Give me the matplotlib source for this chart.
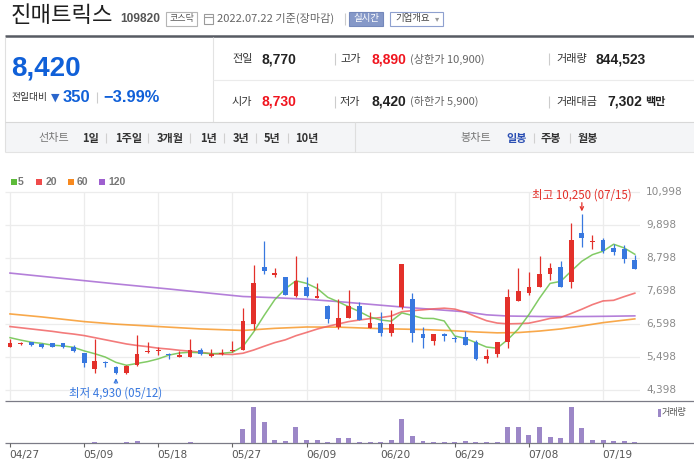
import numpy as np
import pandas as pd
import matplotlib
matplotlib.use('Agg')
import matplotlib.pyplot as plt
from matplotlib.patches import Rectangle

plt.rcParams['font.family'] = ['Noto Sans CJK KR', 'DejaVu Sans']

# ---- daily data (04/27 ~ 07/22) ----
dates = ['04/27', '04/28', '04/29', '05/02', '05/03', '05/04', '05/06', '05/09', '05/10', '05/11',
         '05/12', '05/13', '05/16', '05/17', '05/18', '05/19', '05/20', '05/23', '05/24', '05/25',
         '05/26', '05/27', '05/30', '05/31', '06/02', '06/03', '06/07', '06/08', '06/09', '06/10',
         '06/13', '06/14', '06/15', '06/16', '06/17', '06/20', '06/21', '06/22', '06/23', '06/24',
         '06/27', '06/28', '06/29', '06/30', '07/01', '07/04', '07/05', '07/06', '07/07', '07/08',
         '07/11', '07/12', '07/13', '07/14', '07/15', '07/18', '07/19', '07/20', '07/21', '07/22']
opens = [5830, 5930, 6000, 5920, 5950, 5960, 5840, 5620, 5100, 5290,
         5170, 4950, 5220, 5660, 5680, 5610, 5510, 5510, 5730, 5540,
         5590, 5680, 5730, 6600, 8490, 8240, 8160, 7510, 7830, 7460,
         7200, 6510, 6810, 7200, 6470, 6630, 6280, 7150, 7430, 6260,
         6040, 6260, 6090, 6150, 5990, 5440, 5610, 6010, 7370, 7640,
         7840, 8270, 8480, 8000, 9640, 9330, 9390, 9130, 9090, 8730]
highs = [6100, 5990, 6000, 5950, 5970, 5970, 5880, 5640, 6090, 5350,
         5210, 5220, 6240, 5980, 5820, 5630, 5690, 6100, 5800, 5770,
         5770, 6030, 7130, 8560, 9360, 8460, 8170, 8860, 8170, 7960,
         7230, 7430, 7730, 7330, 7000, 7000, 7060, 8580, 7630, 6500,
         6270, 6280, 6180, 6350, 6060, 5770, 6000, 7760, 8460, 8340,
         8860, 8620, 8690, 9960, 10250, 9560, 9460, 9260, 9210, 8890]
lows = [5830, 5890, 5870, 5810, 5830, 5800, 5670, 5180, 4950, 5150,
        4930, 4940, 5200, 5640, 5550, 5440, 5510, 5500, 5550, 5510,
        5570, 5670, 5720, 6400, 8250, 8150, 7550, 7500, 7500, 7450,
        6640, 6440, 6800, 6720, 6470, 6180, 6180, 7080, 6010, 5810,
        5910, 6040, 5980, 5900, 5390, 5280, 5510, 5810, 7360, 7550,
        7830, 8050, 7830, 7780, 9170, 9080, 8950, 8900, 8640, 8420]
closes = [5950, 5940, 5880, 5840, 5840, 5830, 5700, 5290, 5370, 5280,
          4950, 5210, 5600, 5680, 5730, 5570, 5570, 5720, 5580, 5590,
          5640, 5740, 6700, 7960, 8370, 8250, 7560, 8030, 7530, 7530,
          6770, 6800, 7200, 6730, 6630, 6280, 6600, 8580, 6310, 6140,
          6260, 6190, 6080, 5910, 5430, 5530, 6000, 7500, 7680, 7830,
          8260, 8460, 7840, 9390, 9470, 9350, 9040, 9000, 8770, 8420]
volumes = [210000, 150000, 170000, 140000, 120000, 160000, 180000, 240000, 850000, 250000,
           230000, 850000, 1490000, 230000, 200000, 180000, 170000, 850000, 230000, 190000,
           200000, 240000, 9150000, 23400000, 13600000, 2130000, 1490000, 10400000, 2130000, 2130000,
           850000, 3400000, 3400000, 850000, 850000, 850000, 2130000, 15500000, 4680000, 1490000,
           850000, 850000, 850000, 1490000, 850000, 850000, 850000, 10400000, 10400000, 5320000,
           10400000, 4040000, 3400000, 23300000, 9790000, 2130000, 2130000, 1490000, 1490000, 844523]

# moving averages that need days before 04/27
ma5_head = [6140, 6060, 5990, 5950]
ma20_head = [6510, 6470, 6430, 6390, 6350, 6300, 6260, 6210, 6140, 6070,
             6000, 5930, 5880, 5840, 5790, 5760, 5720, 5690, 5655]
ma60_idx = [0, 3, 7, 10, 14, 18, 22, 25, 28, 31, 35, 39, 42, 44, 46, 48, 50, 52, 54, 56, 59]
ma60_val = [6930, 6830, 6675, 6590, 6510, 6430, 6380, 6450, 6495, 6490, 6440, 6410, 6370,
            6330, 6300, 6310, 6360, 6430, 6530, 6640, 6765]
ma120_idx = [0, 5, 10, 15, 20, 22, 25, 28, 31, 34, 37, 40, 43, 45, 47, 50, 53, 56, 59]
ma120_val = [8290, 8110, 7930, 7760, 7580, 7510, 7470, 7420, 7340, 7250, 7160, 7080, 7000,
             6900, 6860, 6845, 6840, 6850, 6865]

price_ticks = [10998, 9898, 8798, 7698, 6598, 5498, 4398]
date_ticks = ['04/27', '05/09', '05/18', '05/27', '06/09', '06/20', '06/29', '07/08', '07/19']

RED = '#e3302a'
BLUE = '#3878df'
GRID = '#ececec'
VOL = '#9c87c7'
MA_COLORS = {'5': '#6cc24a', '20': '#f05a5a', '60': '#f7931e', '120': '#a15fd0'}
LEG_COLORS = {'5': '#5dbb3a', '20': '#ef4b4b', '60': '#f7891f', '120': '#9e5fcf'}
HDR_BLUE = '#1060d8'
HDR_RED = '#f0141e'
KR = ['Noto Sans CJK KR', 'DejaVu Sans']
NUM = ['Liberation Sans', 'DejaVu Sans']

df = pd.DataFrame(dict(date=dates, open=opens, high=highs, low=lows, close=closes, volume=volumes))
x = np.arange(len(df))
ma5 = df['close'].rolling(5).mean().to_numpy()
ma5[:len(ma5_head)] = ma5_head
ma20 = df['close'].rolling(20).mean().to_numpy()
ma20[:len(ma20_head)] = ma20_head

W, H = 694, 466
fig = plt.figure(figsize=(W / 100, H / 100), dpi=100)


def box(l, t, r, b):
    return [l / W, 1 - b / H, (r - l) / W, (b - t) / H]


# pixel layout of the chart
DAY = 10.59      # px per trading day
X0 = 10          # px of first candle
TOP_Y, BOT_Y = 191.7, 390.0
PPW = (BOT_Y - TOP_Y) / (price_ticks[0] - price_ticks[-1])


def xlim_for(l, r):
    return ((l - X0) / DAY, (r - X0) / DAY)


def ylim_for(t, b):
    return (price_ticks[0] - (b - TOP_Y) / PPW, price_ticks[0] + (TOP_Y - t) / PPW)


bg = fig.add_axes([0, 0, 1, 1])
bg.set_xlim(0, W)
bg.set_ylim(H, 0)
bg.axis('off')


def t(xp, yp, s, size, color='#333333', weight='normal', family=KR, ha='left'):
    bg.text(xp, yp, s, fontsize=size, color=color, fontweight=weight, family=family,
            ha=ha, va='center')


# ---- header ----
t(11, 16, '진매트릭스', 16, '#1e1e1e')
t(120, 18.7, '109820', 8.6, '#555555', 'bold', NUM)
bg.add_patch(Rectangle((166, 12), 31, 13.5, fc='white', ec='#b5b5b5', lw=0.8))
t(181.5, 18.5, '코스닥', 6.5, '#555555', ha='center')
bg.add_patch(Rectangle((204, 13.5), 9, 10, fc='white', ec='#9a9a9a', lw=0.8))
bg.hlines(16.5, 204, 213, color='#9a9a9a', lw=0.8)
t(217, 18.7, '2022.07.22 기준(장마감)', 8, '#666666')
bg.vlines(345, 13, 25, color='#cccccc', lw=0.8)
bg.add_patch(Rectangle((349, 12), 34, 13.5, fc='#8598c8', ec='#7488bb', lw=0.8))
t(366, 18.5, '실시간', 6.8, 'white', ha='center')
bg.add_patch(Rectangle((390, 12), 53, 14, fc='white', ec='#8ea0cf', lw=0.8))
t(395, 19, '기업개요', 6.8, '#444444')
t(435, 19, '▾', 6, '#999999', family=['DejaVu Sans'])

bg.hlines(35.5, 5, W, color='#575b63', lw=1.8)

# ---- summary panel ----
bg.vlines(5, 37, 152, color='#e0e0e0', lw=0.8)
bg.vlines(213, 37, 122, color='#e3e3e3', lw=0.8)
bg.hlines(80, 213, W, color='#ebebeb', lw=0.8)

cur, prev = closes[-1], closes[-2]
diff = cur - prev
pct = diff / prev * 100
t(11, 69, f'{cur:,}', 20, HDR_BLUE, 'bold', NUM)
t(12, 97, '전일대비', 7, '#333333')
t(51, 97.5, '▼', 8, '#2a66cc', family=['DejaVu Sans'])
t(63, 97, f'{abs(diff):,}', 12, HDR_BLUE, 'bold', NUM)
bg.vlines(97, 92, 103, color='#cccccc', lw=0.8)
t(103, 97, f'{pct:.2f}%'.replace('-', '−'), 11.8, HDR_BLUE, 'bold', NUM)

r1, r2 = 59.3, 101.7
t(232, r1, '전일', 8, '#333333')
t(262, r1, f'{prev:,}', 10, '#222222', 'bold', NUM)
t(232, r2, '시가', 8, '#333333')
t(262, r2, f'{opens[-1]:,}', 10, HDR_RED, 'bold', NUM)
for yy in (r1, r2):
    bg.vlines([335, 549], yy - 6, yy + 6, color='#cccccc', lw=0.8)
t(340, r1, '고가', 8, '#333333')
t(372, r1, f'{highs[-1]:,}', 10, HDR_RED, 'bold', NUM)
t(410, r1, '(상한가 10,900)', 8, '#666666')
t(340, r2, '저가', 8, '#333333')
t(372, r2, f'{lows[-1]:,}', 10, '#222222', 'bold', NUM)
t(410, r2, '(하한가 5,900)', 8, '#666666')
t(556, r1, '거래량', 8, '#333333')
t(596, r1, f'{volumes[-1]:,}', 10, '#222222', 'bold', NUM)
t(556, r2, '거래대금', 8, '#333333')
t(607, r2, '7,302', 10, '#222222', 'bold', NUM)
t(645, r2, '백만', 8, '#222222', 'bold')

# ---- toolbar ----
bg.add_patch(Rectangle((5, 122), W - 5, 30, fc='#f4f5f7', ec='none'))
bg.hlines(122, 5, W, color='#d8d8d8', lw=0.8)
bg.hlines(152, 5, W, color='#e3e3e3', lw=0.8)
bg.vlines(355, 122, 152, color='#dedede', lw=0.8)
ty = 138.3
t(38, ty, '선차트', 8, '#777777')
for s, xp in [('1일', 82), ('1주일', 115), ('3개월', 157), ('1년', 200), ('3년', 233), ('5년', 264), ('10년', 295)]:
    t(xp, ty, s, 8, '#333333', 'bold')
bg.vlines([106, 148, 190, 224, 256, 288, 534, 570], ty - 5, ty + 5, color='#d0d0d0', lw=0.8)
t(460, ty, '봉차트', 8, '#777777')
t(506, ty, '일봉', 8, '#2b4fb3', 'bold')
t(541, ty, '주봉', 8, '#333333', 'bold')
t(578, ty, '월봉', 8, '#333333', 'bold')

# ---- MA legend ----
for key, sx, tx in [('5', 11, 17.5), ('20', 36, 45.5), ('60', 68, 76.5), ('120', 99.5, 108.5)]:
    bg.add_patch(Rectangle((sx, 179), 6, 6, fc=LEG_COLORS[key], ec='none'))
    t(tx, 182, key, 7.5, '#777777', 'bold', NUM)

# ---- price chart ----
ax = fig.add_axes(box(5, 180, 640, 400.7))
ax.set_xlim(*xlim_for(5, 640))
ax.set_ylim(*ylim_for(180, 400.7))
ax.axis('off')

tick_idx = [dates.index(d) for d in date_ticks]
ax.hlines(price_ticks, *ax.get_xlim(), color=GRID, lw=0.9, zorder=0)
ax.vlines(tick_idx, ax.get_ylim()[0], price_ticks[0], color=GRID, lw=0.9, zorder=0)

ax.plot(ma120_idx, ma120_val, color=MA_COLORS['120'], lw=1.2, alpha=0.8, zorder=1)
ax.plot(ma60_idx, ma60_val, color=MA_COLORS['60'], lw=1.2, alpha=0.8, zorder=1)
ax.plot(x, ma20, color=MA_COLORS['20'], lw=1.2, alpha=0.8, zorder=1)
ax.plot(x, ma5, color=MA_COLORS['5'], lw=1.1, alpha=0.85, zorder=1)

up = df['close'] >= df['open']
colors = np.where(up, RED, BLUE)
ax.vlines(x, df['low'], df['high'], colors=colors, lw=0.9, zorder=2)
body_bottom = np.minimum(df['open'], df['close'])
body_h = np.maximum((df['close'] - df['open']).abs(), 40)
ax.bar(x, body_h, bottom=body_bottom, width=0.45, color=colors, zorder=3)

ytr = ax.get_yaxis_transform()
for p in price_ticks:
    ax.text(1 + 6 / 635, p, f'{p:,}', transform=ytr, ha='left', va='center',
            fontsize=7.6, color='#8a8a8a', family=['DejaVu Sans'], clip_on=False)

imax = int(df['high'].idxmax())
imin = int(df['low'].idxmin())
hi, lo = highs[imax], lows[imin]
ax.annotate('', xy=(imax, hi), xytext=(0, 11.5), textcoords='offset pixels',
            arrowprops=dict(arrowstyle='->', color=RED, lw=0.9, shrinkA=0, shrinkB=2, mutation_scale=6))
ax.annotate(f'최고 {hi:,} ({dates[imax]})', xy=(imax, hi), xytext=(0, 19), textcoords='offset pixels',
            ha='center', va='center', color=RED, fontsize=8.3, annotation_clip=False)
ax.annotate('', xy=(imin, lo), xytext=(0, -9.5), textcoords='offset pixels',
            arrowprops=dict(arrowstyle='->', color=BLUE, lw=0.9, shrinkA=0, shrinkB=3, mutation_scale=6))
ax.annotate(f'최저 {lo:,} ({dates[imin]})', xy=(imin, lo), xytext=(0, -18.7), textcoords='offset pixels',
            ha='center', va='center', color=BLUE, fontsize=8.3, annotation_clip=False)

# ---- volume ----
axv = fig.add_axes(box(5, 400.7, W, 443.3))
axv.set_xlim(*xlim_for(5, W))
axv.set_ylim(0, max(volumes) * 1.165)
axv.axis('off')
axv.bar(x, df['volume'], width=0.47, color=VOL)
bg.hlines([400.7, 443.3], 5, W, color='#7b7b86', lw=0.9)

xtr = axv.get_xaxis_transform()
vh = 443.3 - 400.7
axv.vlines(tick_idx, -3.4 / vh, 0, transform=xtr, color='#666666', lw=0.8, clip_on=False)
for i, d in zip(tick_idx, date_ticks):
    axv.text(i - 0.07, -11.7 / vh, d, transform=xtr, ha='left', va='center',
             fontsize=7.6, color='#555555', family=['DejaVu Sans'], clip_on=False)

bg.add_patch(Rectangle((658.3, 409.3), 2.6, 7.4, fc=VOL, ec='none'))
t(662, 413, '거래량', 6.5, '#555555')

fig.savefig('out.png', dpi=100)
